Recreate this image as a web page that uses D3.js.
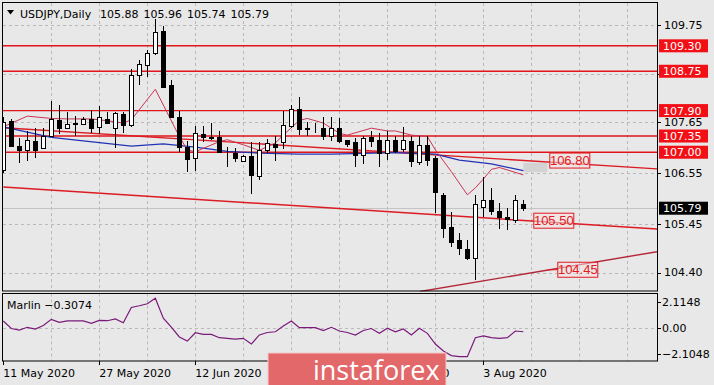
<!DOCTYPE html>
<html>
<head>
<meta charset="utf-8">
<script src="https://cdn.jsdelivr.net/npm/d3@7"></script>
<style>
  html, body { margin: 0; padding: 0; background: #e8e8e8; }
  svg { display: block; font-family: "DejaVu Sans", sans-serif; }
</style>
</head>
<body>
<svg id="chart" width="714" height="385"></svg>
<script>
"use strict";
// Daily candles, 11 May 2020 .. 10 Aug 2020
const opens  = [106.62,107.68,107.14,107.04,107.25,107.10,107.36,107.70,107.52,107.64,107.62,107.72,107.54,107.72,107.52,107.82,107.59,108.67,108.89,109.14,109.62,108.45,107.76,107.11,106.87,107.40,107.32,107.32,107.01,106.99,106.80,106.91,106.49,107.05,107.18,107.23,107.57,107.93,107.50,107.51,107.52,107.35,107.52,107.27,107.23,106.94,107.32,107.27,106.98,107.27,107.06,107.25,106.78,107.16,106.87,106.08,105.39,105.11,104.91,104.71,105.81,105.97,105.74,105.61,105.54,105.88];
const highs  = [107.77,107.72,107.30,107.45,107.52,107.52,108.11,108.01,107.86,107.79,107.77,107.91,107.99,107.88,107.87,107.88,108.79,108.99,109.22,109.87,109.73,108.56,107.90,107.25,107.57,107.57,107.64,107.45,107.12,107.09,106.94,107.23,107.23,107.28,107.34,107.90,108.02,108.20,107.66,107.63,107.77,107.77,107.74,107.27,107.30,107.35,107.45,107.42,107.45,107.34,107.55,107.34,107.34,107.34,106.91,106.11,105.70,105.26,105.11,106.08,106.47,106.22,105.90,105.79,106.08,105.96];
const lows   = [106.55,107.12,106.76,106.80,106.87,107.08,107.32,107.39,107.50,107.36,107.59,107.41,107.39,107.60,107.10,107.41,107.55,108.45,108.63,109.10,108.38,107.73,107.01,106.58,106.60,107.23,107.27,106.98,106.69,106.78,106.79,106.10,106.40,106.99,106.82,107.07,107.52,107.37,107.34,107.41,107.27,107.25,107.21,107.12,106.68,106.75,107.11,106.69,106.83,106.98,107.01,106.69,106.73,106.71,105.68,105.14,104.96,104.78,104.67,104.23,105.60,105.65,105.34,105.31,105.48,105.74];
const closes = [107.66,107.14,107.04,107.27,107.05,107.36,107.72,107.52,107.60,107.62,107.71,107.53,107.76,107.63,107.84,107.59,108.67,108.91,109.14,109.59,108.42,107.77,107.11,106.85,107.41,107.32,107.31,107.01,107.00,106.88,106.91,106.51,107.05,107.19,107.12,107.59,107.93,107.50,107.52,107.50,107.35,107.52,107.25,107.18,106.94,107.30,107.25,106.98,107.27,107.02,107.27,106.80,107.16,106.83,106.15,105.36,105.07,104.93,104.71,105.88,105.96,105.72,105.60,105.55,105.96,105.79];

// Marlin oscillator, one value per candle
const marlin = [0.56,-0.05,-0.17,0.05,-0.09,0.19,0.69,0.45,0.56,0.57,0.56,0.37,0.61,0.58,0.72,0.42,1.65,1.79,1.95,2.39,0.78,0.07,-0.73,-1.06,-0.39,-0.52,-0.52,-0.79,-0.84,-0.90,-0.84,-1.30,-0.57,-0.37,-0.31,0.15,0.56,0.02,0.02,0.02,-0.21,0.05,-0.25,-0.37,-0.57,-0.21,-0.05,-0.44,-0.03,-0.31,-0.09,-0.57,-0.03,-0.44,-1.30,-1.86,-2.23,-2.32,-2.32,-0.79,-0.65,-0.79,-0.84,-0.79,-0.25,-0.31];

// moving averages read at a few bars: [bar, price]
const maFast = [[0,107.55],[3,107.78],[6,107.73],[8,107.72],[11,107.72],[13,107.68],[15,107.63],[16,107.70],[19,108.36],[22,107.34],[23,107.05],[24,107.01],[27,107.23],[28,107.27],[30,107.16],[32,107.04],[34,107.20],[35,107.37],[37,107.69],[38,107.73],[40,107.63],[42,107.41],[43,107.37],[46,107.52],[48,107.46],[49,107.46],[51,107.37],[53,107.34],[54,107.05],[56,106.58],[58,106.08],[59,106.23],[60,106.42],[61,106.63],[62,106.67],[65,106.51]];
const maSlow = [[0,107.55],[6,107.32],[16,107.13],[20,107.18],[24,107.11],[28,107.02],[32,106.98],[37,106.96],[41,106.96],[49,106.99],[54,106.96],[57,106.83],[61,106.75],[65,106.60]];

// drawn objects
const levels = [109.30, 108.75, 107.90, 107.35, 107.00];
const trendLines = [
  { name: "upper", pts: [[0, 107.53], [81.7, 106.64]] },
  { name: "middle", pts: [[0, 106.25], [81.7, 105.34]] },
  { name: "rising", pts: [[52.1, 103.99], [81.7, 104.85]] }
];
const priceLabels = [
  { text: "106.80", bar: 70.8, price: 106.82 },
  { text: "105.50", bar: 68.8, price: 105.52 },
  { text: "104.45", bar: 71.8, price: 104.46 }
];
const zone = { bar0: 65, bar1: 68, p0: 106.57, p1: 106.77 };

const priceTicks = [109.75, 108.70, 107.65, 106.55, 105.45, 104.40];
const hiddenTicks = [108.70]; // covered by the 108.75 level box
const marlinTicks = [2.1148, 0.00, -2.1048];
const dateLabels = [[0, "11 May 2020"], [12, "27 May 2020"], [24, "12 Jun 2020"], [36, "30 Jun 2020"], [48, "16 Jul 2020"], [60, "3 Aug 2020"]];
const lastBar = { o: 105.88, h: 105.96, l: 105.74, c: 105.79 };

const svg = d3.select("#chart");
const left = 3, right = 657, mainTop = 3, mainBottom = 291.5, subTop = 293.5, subBottom = 361;

const x = d3.scaleLinear().domain([0, 81.7]).range([3.3, 657]);
const y = d3.scaleLinear().domain([103.99, 110.225]).range([mainBottom, mainTop]);
const ym = d3.scaleLinear().domain([-2.1048, 2.1148]).range([354, 301.7]);

svg.append("rect").attr("width", 714).attr("height", 385).attr("fill", "#e8e8e8");

svg.append("defs").append("clipPath").attr("id", "clipMain")
  .append("rect").attr("x", left).attr("y", mainTop).attr("width", right - left).attr("height", mainBottom - mainTop);

const crisp = (v) => Math.round(v) + 0.5;

// grid
const grid = svg.append("g").attr("stroke", "#b9b9b9").attr("stroke-dasharray", "3,3").attr("stroke-width", 1);
const vBars = d3.range(6, 82, 6);
grid.selectAll(".vg").data(vBars).join("line")
  .attr("x1", (d) => crisp(x(d))).attr("x2", (d) => crisp(x(d)))
  .attr("y1", mainTop).attr("y2", mainBottom);
grid.selectAll(".vg2").data(vBars).join("line")
  .attr("x1", (d) => crisp(x(d))).attr("x2", (d) => crisp(x(d)))
  .attr("y1", subTop).attr("y2", subBottom);
grid.selectAll(".hg").data(priceTicks).join("line")
  .attr("x1", left).attr("x2", right)
  .attr("y1", (d) => crisp(y(d))).attr("y2", (d) => crisp(y(d)));
grid.append("line").attr("x1", left).attr("x2", right)
  .attr("y1", crisp(ym(0))).attr("y2", crisp(ym(0)));

const main = svg.append("g").attr("clip-path", "url(#clipMain)");

// current price line
main.append("line").attr("x1", left).attr("x2", right)
  .attr("y1", crisp(y(lastBar.c))).attr("y2", crisp(y(lastBar.c)))
  .attr("stroke", "#c4c4c4");

// gray zone
main.append("rect")
  .attr("x", x(zone.bar0)).attr("width", x(zone.bar1) - x(zone.bar0))
  .attr("y", y(zone.p1)).attr("height", y(zone.p0) - y(zone.p1))
  .attr("fill", "#d3d3d3");

// horizontal levels
main.selectAll(".lvl").data(levels).join("line")
  .attr("x1", left).attr("x2", right)
  .attr("y1", (d) => y(d)).attr("y2", (d) => y(d))
  .attr("stroke", "#e0141a").attr("stroke-width", 1.4);

// trend lines
main.selectAll(".trend").data(trendLines).join("line")
  .attr("x1", (d) => x(d.pts[0][0])).attr("y1", (d) => y(d.pts[0][1]))
  .attr("x2", (d) => x(d.pts[1][0])).attr("y2", (d) => y(d.pts[1][1]))
  .attr("stroke", (d) => d.name === "rising" ? "#b3263a" : "#dc1c22")
  .attr("stroke-width", 1.4);

// moving averages
const line = d3.line().x((d) => x(d[0])).y((d) => y(d[1]));
main.append("path").attr("d", line(maSlow)).attr("fill", "none")
  .attr("stroke", "#2233b4").attr("stroke-width", 1.3);
main.append("path").attr("d", line(maFast)).attr("fill", "none")
  .attr("stroke", "#cc3355").attr("stroke-width", 1);

// candles
const candles = opens.map((o, i) => ({ i, o, h: highs[i], l: lows[i], c: closes[i] }));
const cg = main.append("g");
cg.selectAll(".wick").data(candles).join("line")
  .attr("x1", (d) => crisp(x(d.i))).attr("x2", (d) => crisp(x(d.i)))
  .attr("y1", (d) => Math.round(y(d.h))).attr("y2", (d) => Math.round(y(d.l)))
  .attr("stroke", "#000");
cg.selectAll(".body").data(candles).join("rect")
  .attr("x", (d) => Math.round(x(d.i)) - 2 + 0.5)
  .attr("width", 4)
  .attr("y", (d) => Math.round(y(Math.max(d.o, d.c))) + 0.5)
  .attr("height", (d) => Math.max(0, Math.round(y(Math.min(d.o, d.c))) - Math.round(y(Math.max(d.o, d.c)))))
  .attr("fill", (d) => d.c >= d.o ? "#fff" : "#000")
  .attr("stroke", "#000");

// price labels on chart
const pl = main.selectAll(".plab").data(priceLabels).join("g")
  .attr("transform", (d) => `translate(${x(d.bar)},${y(d.price)})`);
pl.append("rect").attr("x", -20).attr("y", -7.5).attr("width", 40).attr("height", 15)
  .attr("fill", "rgba(245,225,225,0.55)").attr("stroke", "#e01a22");
pl.append("text").attr("text-anchor", "middle").attr("dy", "0.36em")
  .attr("font-family", "Liberation Sans, Arial, sans-serif").attr("font-size", 13)
  .attr("fill", "#e01a22").text((d) => d.text);
// leader to 104.45 label
main.append("line")
  .attr("x1", x(priceLabels[2].bar) - 30).attr("x2", x(priceLabels[2].bar) - 20)
  .attr("y1", y(priceLabels[2].price)).attr("y2", y(priceLabels[2].price))
  .attr("stroke", "#e01a22");

// Marlin
svg.append("path")
  .attr("d", d3.line().x((d, i) => x(i)).y((d) => ym(d))(marlin))
  .attr("fill", "none").attr("stroke", "#7a1a7a").attr("stroke-width", 1.2);

// frames
const frame = svg.append("g").attr("fill", "none").attr("stroke", "#000");
frame.append("rect").attr("x", left - 0.5).attr("y", mainTop - 0.5).attr("width", right - left + 1).attr("height", mainBottom - mainTop);
frame.append("rect").attr("x", left - 0.5).attr("y", subTop).attr("width", right - left + 1).attr("height", subBottom - subTop);

// right price axis
const axis = svg.append("g").attr("font-size", 11).attr("fill", "#000");
axis.selectAll(".pt").data(priceTicks).join("line")
  .attr("x1", right).attr("x2", right + 4)
  .attr("y1", (d) => crisp(y(d))).attr("y2", (d) => crisp(y(d))).attr("stroke", "#000");
axis.selectAll(".ptl").data(priceTicks.filter((d) => !hiddenTicks.includes(d))).join("text")
  .attr("x", right + 7).attr("y", (d) => y(d)).attr("dy", "0.36em")
  .text((d) => d3.format(".2f")(d));

axis.selectAll(".lb").data(levels).join("rect")
  .attr("x", 659).attr("width", 49).attr("y", (d) => y(d) - 6.5).attr("height", 13)
  .attr("fill", "#f21016");
axis.selectAll(".lbt").data(levels).join("text")
  .attr("x", 663).attr("y", (d) => y(d)).attr("dy", "0.36em").attr("fill", "#fff")
  .text((d) => d3.format(".2f")(d));
axis.append("rect").attr("x", 659).attr("width", 49).attr("y", y(lastBar.c) - 6.5).attr("height", 13).attr("fill", "#000");
axis.append("text").attr("x", 663).attr("y", y(lastBar.c)).attr("dy", "0.36em").attr("fill", "#fff")
  .text(d3.format(".2f")(lastBar.c));

// Marlin axis
axis.selectAll(".mt").data(marlinTicks).join("line")
  .attr("x1", right).attr("x2", right + 4)
  .attr("y1", (d) => crisp(ym(d))).attr("y2", (d) => crisp(ym(d))).attr("stroke", "#000");
axis.selectAll(".mtl").data(marlinTicks).join("text")
  .attr("x", 662).attr("y", (d) => ym(d)).attr("dy", "0.36em")
  .text((d) => d === 0 ? "0.00" : d3.format(".4f")(d));

// date axis
const dax = svg.append("g").attr("font-size", 11);
dax.selectAll(".dt").data(dateLabels).join("line")
  .attr("x1", (d) => crisp(x(d[0]))).attr("x2", (d) => crisp(x(d[0])))
  .attr("y1", subBottom).attr("y2", subBottom + 4).attr("stroke", "#000");
dax.selectAll(".dl").data(dateLabels).join("text")
  .attr("x", (d) => x(d[0])).attr("y", 377).text((d) => d[1]);

// header
svg.append("path").attr("d", "M7,10 L14,10 L10.5,14.5 Z").attr("fill", "#000");
const hdr = svg.append("g").attr("font-size", 11);
hdr.append("text").attr("x", 20).attr("y", 18).text("USDJPY,Daily");
hdr.selectAll(".hv").data([lastBar.o, lastBar.h, lastBar.l, lastBar.c]).join("text")
  .attr("x", (d, i) => 100 + i * 43.5).attr("y", 18).text((d) => d3.format(".2f")(d));
svg.append("text").attr("x", 7).attr("y", 309).attr("font-size", 11)
  .text("Marlin " + d3.format(".4f")(-0.3074));

// watermark
const wm = svg.append("g");
wm.append("rect").attr("x", 268).attr("y", 353).attr("width", 178).attr("height", 34)
  .attr("fill", "#e2686a").attr("stroke", "#f3c9c9").attr("stroke-width", 1);
wm.append("text").attr("x", 313).attr("y", 380).attr("font-family", "Open Sans, sans-serif")
  .attr("font-size", 27).attr("fill", "#fff").text("instaforex");
</script>
</body>
</html>
